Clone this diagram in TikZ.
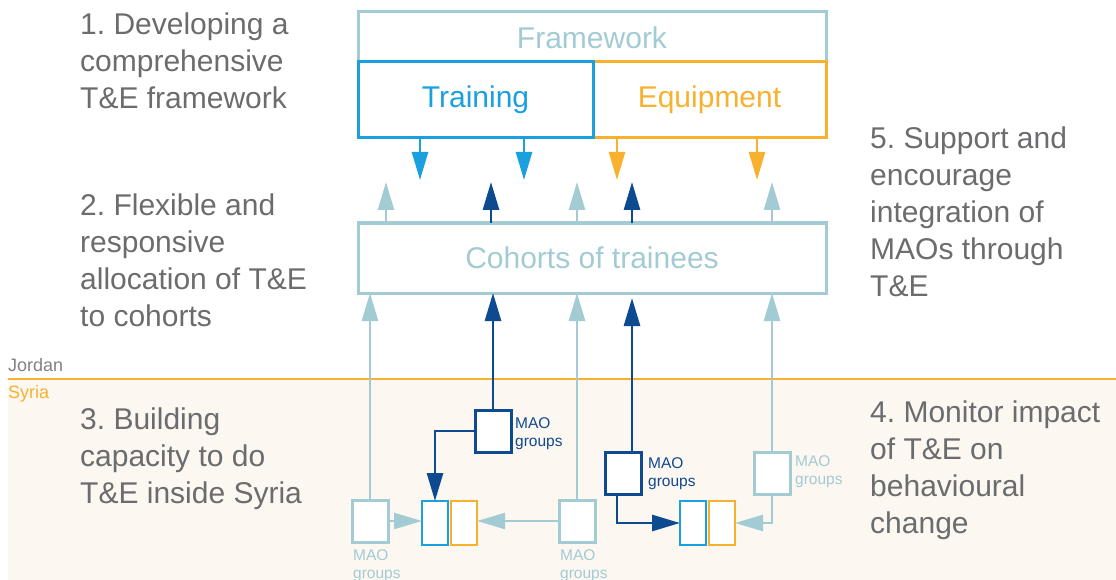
\documentclass[tikz,border=0pt]{standalone}
\usepackage{fontspec}
\setmainfont{Liberation Sans}
\usetikzlibrary{arrows.meta}
\frenchspacing

\definecolor{txtgray}{HTML}{6B6C6E}
\definecolor{paleteal}{HTML}{A2CBD4}
\definecolor{navy}{HTML}{0E4A90}
\definecolor{skyblue}{HTML}{1AA0DF}
\definecolor{amber}{HTML}{F8B12F}
\definecolor{cream}{HTML}{FCF7F1}

\tikzset{
  frame/.style={draw, line width=3pt, inner sep=0pt, outer sep=0pt, anchor=north west},
  bigtxt/.style={font=\fontsize{30}{37}\selectfont},
  % anchored at the baseline of the last line
  para/.style={bigtxt, text=txtgray, align=left, anchor=base west, inner sep=0pt},
  maobox/.style={frame, fill=white, minimum width=36pt, minimum height=42pt},
  cell/.style={frame, fill=white, minimum width=26pt, minimum height=44pt, line width=2.8pt},
  maotxt/.style={font=\fontsize{15.5}{18}\selectfont, align=left, anchor=base west, inner sep=0pt},
  tip/.style={-{Triangle[width=16pt,length=28pt]}},
  lightarrow/.style={tip, draw=paleteal, line width=2.4pt},
  darkarrow/.style={tip, draw=navy, line width=2.8pt},
}

\begin{document}
\begin{tikzpicture}[x=1pt, y=-1pt]
\useasboundingbox (0,0) rectangle (1116,580);

% Syria band
\fill[cream] (8,379) rectangle (1116,580);
\draw[amber, line width=2pt] (8,379) -- (1116,379);
\node[font=\fontsize{18}{20}\selectfont, text=txtgray!85, anchor=base west, inner sep=0pt] (jordan) at (8,371) {Jordan};
\node[font=\fontsize{18}{20}\selectfont, text=amber, anchor=base west, inner sep=0pt] (syria) at (8,398) {Syria};

% framework block
\node[frame, draw=paleteal, minimum width=468pt, minimum height=126pt] (frame) at (358,12) {};
\node[bigtxt, text=paleteal] (framelbl) at (592,38) {Framework};
\node[frame, draw=amber, minimum width=233pt, minimum height=76pt, bigtxt, text=amber] (equip) at (593,62) {Equipment};
\node[frame, draw=skyblue, minimum width=235pt, minimum height=76pt, bigtxt, text=skyblue] (train) at (358,62) {Training};

% cohorts
\node[frame, draw=paleteal, minimum width=468pt, minimum height=70pt, bigtxt, text=paleteal] (coh) at (358,223) {Cohorts of trainees};

% tips of the free arrows
\coordinate (t1) at (420,180);
\coordinate (t2) at (524,180);
\coordinate (e1) at (617,180);
\coordinate (e2) at (757,180);
\coordinate (u1) at (386,182);
\coordinate (u2) at (491,182);
\coordinate (u3) at (577,182);
\coordinate (u4) at (632,182);
\coordinate (u5) at (772,182);

\draw[tip, draw=skyblue, line width=2.6pt] (train.south -| t1) -- (t1);
\draw[tip, draw=skyblue, line width=2.6pt] (train.south -| t2) -- (t2);
\draw[tip, draw=amber, line width=2.6pt] (equip.south -| e1) -- (e1);
\draw[tip, draw=amber, line width=2.6pt] (equip.south -| e2) -- (e2);

\draw[lightarrow] (coh.north -| u1) -- (u1);
\draw[darkarrow] (coh.north -| u2) -- (u2);
\draw[lightarrow] (coh.north -| u3) -- (u3);
\draw[darkarrow] (coh.north -| u4) -- (u4);
\draw[lightarrow] (coh.north -| u5) -- (u5);

% text blocks
\node[para] (s1) at (80,109) {1. Developing a\\comprehensive\\T\&E framework};
\node[para] (s2) at (80,326) {2. Flexible and\\responsive\\allocation of T\&E\\to cohorts};
\node[para] (s5) at (870,296) {5. Support and\\encourage\\integration of\\MAOs through\\T\&E};
\node[para] (s3) at (80,503) {3. Building\\capacity to do\\T\&E inside Syria};
\node[para] (s4) at (870,533) {4. Monitor impact\\of T\&E on\\behavioural\\change};

% MAO groups
\node[maobox, draw=paleteal] (mL) at (352,500) {};
\node[maobox, draw=paleteal] (mM) at (559,500) {};
\node[maobox, draw=paleteal] (mR) at (754,452) {};
\node[maobox, draw=navy] (d1) at (475,410) {};
\node[maobox, draw=navy] (d2) at (605,452) {};

\node[maotxt, text=paleteal] (lL) at (353,578) {MAO\\groups};
\node[maotxt, text=paleteal] (lM) at (560,578) {MAO\\groups};
\node[maotxt, text=paleteal] (lR) at (795,484) {MAO\\groups};
\node[maotxt, text=navy] (l1) at (515,446) {MAO\\groups};
\node[maotxt, text=navy] (l2) at (648,486) {MAO\\groups};

% training / equipment cells inside Syria
\node[cell, draw=skyblue] (bA) at (422,501) {};
\node[cell, draw=amber] (oA) at (451,501) {};
\node[cell, draw=skyblue] (bB) at (680,501) {};
\node[cell, draw=amber] (oB) at (709,501) {};

% links up to the cohorts
\draw[lightarrow] (mL.north) -- (mL.north |- coh.south);
\draw[lightarrow] (mM.north) -- (mM.north |- coh.south);
\draw[lightarrow] (mR.north) -- (mR.north |- coh.south);
\draw[darkarrow] (d1.north) -- (d1.north |- coh.south);
\coordinate (d2top) at (632,452);
\coordinate (d2tip) at (632,298);
\draw[darkarrow] (d2top) -- (d2tip);

% links to the cells
\draw[lightarrow] (mL.east) -- (mL.east -| bA.west);
\draw[lightarrow] (mM.west) -- (mM.west -| oA.east);
\draw[lightarrow] (mR.south) |- (oB.east);
\draw[darkarrow] (d1.west) -| (bA.north);
\draw[darkarrow] ([xshift=-6pt]d2.south) |- (bB.west);

\end{tikzpicture}
\end{document}
